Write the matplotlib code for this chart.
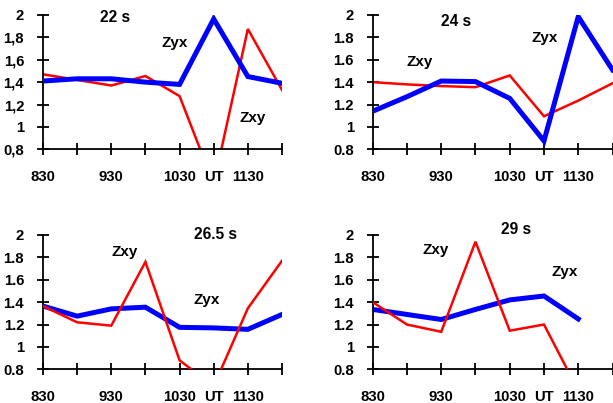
import matplotlib
matplotlib.use("Agg")
import matplotlib.pyplot as plt

plt.rcParams['font.family'] = ['Liberation Sans', 'DejaVu Sans']
plt.rcParams['font.weight'] = 'bold'

x_pos = [0, 1, 2, 3, 4, 5, 6, 7]
x_labels = ['830', '', '930', '', '1030', 'UT', '1130', '']
y_ticks = [0.8, 1.0, 1.2, 1.4, 1.6, 1.8, 2.0]
y_labels_comma = ['0,8', '1', '1,2', '1,4', '1,6', '1,8', '2']
y_labels_dot = ['0.8', '1', '1.2', '1.4', '1.6', '1.8', '2']

# Panel 22 s
zxy_22 = [1.47, 1.42, 1.37, 1.455, 1.275, 0.49, 1.875, 1.33]
zyx_22 = [1.41, 1.43, 1.43, 1.40, 1.38, 1.965, 1.45, 1.39]
# Panel 24 s
zxy_24 = [1.40, 1.38, 1.365, 1.355, 1.46, 1.095, 1.235, 1.39]
zyx_24 = [1.14, 1.27, 1.41, 1.405, 1.255, 0.875, 1.985, 1.51]
# Panel 26.5 s
zxy_265 = [1.365, 1.22, 1.19, 1.76, 0.88, 0.65, 1.345, 1.77]
zyx_265 = [1.365, 1.275, 1.34, 1.355, 1.175, 1.17, 1.157, 1.29]
# Panel 29 s
zxy_29 = [1.40, 1.20, 1.135, 1.94, 1.145, 1.20, 0.61]
zyx_29 = [1.335, 1.29, 1.245, 1.335, 1.42, 1.455, 1.25]

W, H = 613, 403
fig = plt.figure(figsize=(W / 100, H / 100), dpi=100)

def rect(l, r, t, b):
    return [l / W, 1 - b / H, (r - l) / W, (b - t) / H]

panels = [
    dict(rect=rect(43, 282, 15, 149.3), zxy=zxy_22, zyx=zyx_22, ylab=y_labels_comma,
         title=('22 s', 115, 18), lzyx=(175, 43), lzxy=(253, 118), blue_top=True),
    dict(rect=rect(372.7, 612.5, 15, 149.3), zxy=zxy_24, zyx=zyx_24, ylab=y_labels_dot,
         title=('24 s', 456, 21), lzyx=(545, 38), lzxy=(420, 62), blue_top=True),
    dict(rect=rect(43, 282, 235, 369.3), zxy=zxy_265, zyx=zyx_265, ylab=y_labels_dot,
         title=('26.5 s', 215, 234), lzyx=(207, 300), lzxy=(125, 252), blue_top=False),
    dict(rect=rect(372.7, 612.5, 235, 369.3), zxy=zxy_29, zyx=zyx_29, ylab=y_labels_dot,
         title=('29 s', 516, 230), lzyx=(565, 272), lzxy=(436, 250), blue_top=False),
]

for p in panels:
    ax = fig.add_axes(p['rect'])
    zr = 3 if not p['blue_top'] else 2
    zb = 2 if not p['blue_top'] else 3
    ax.plot(x_pos[:len(p['zxy'])], p['zxy'], color='#ff0000', lw=1.8, zorder=zr,
            solid_joinstyle='miter')
    ax.plot(x_pos[:len(p['zyx'])], p['zyx'], color='#0000ff', lw=3.6, zorder=zb,
            solid_joinstyle='miter')
    ax.set_xlim(0, 7)
    ax.set_ylim(0.8, 2.0)
    ax.set_xticks(x_pos)
    ax.set_xticklabels(x_labels)
    ax.set_yticks(y_ticks)
    ax.set_yticklabels(p['ylab'])
    for s in ['top', 'right']:
        ax.spines[s].set_visible(False)
    for s in ['left', 'bottom']:
        ax.spines[s].set_linewidth(1.3)
    ax.tick_params(axis='both', direction='inout', length=8, width=1.3,
                   labelsize=10.7)
    ax.tick_params(axis='x', pad=11)
    ax.tick_params(axis='y', pad=9.5)
    for lab in ax.get_xticklabels() + ax.get_yticklabels():
        lab.set_fontweight('bold')
    ax.patch.set_visible(False)
    t, tx, ty = p['title']
    fig.text(tx / W, 1 - ty / H, t, ha='center', va='center', fontsize=11.2,
             fontweight='bold')
    fig.text(p['lzyx'][0] / W, 1 - p['lzyx'][1] / H, 'Zyx', ha='center', va='center',
             fontsize=11, fontweight='bold')
    fig.text(p['lzxy'][0] / W, 1 - p['lzxy'][1] / H, 'Zxy', ha='center', va='center',
             fontsize=11, fontweight='bold')

fig.savefig('out.png', dpi=100)
